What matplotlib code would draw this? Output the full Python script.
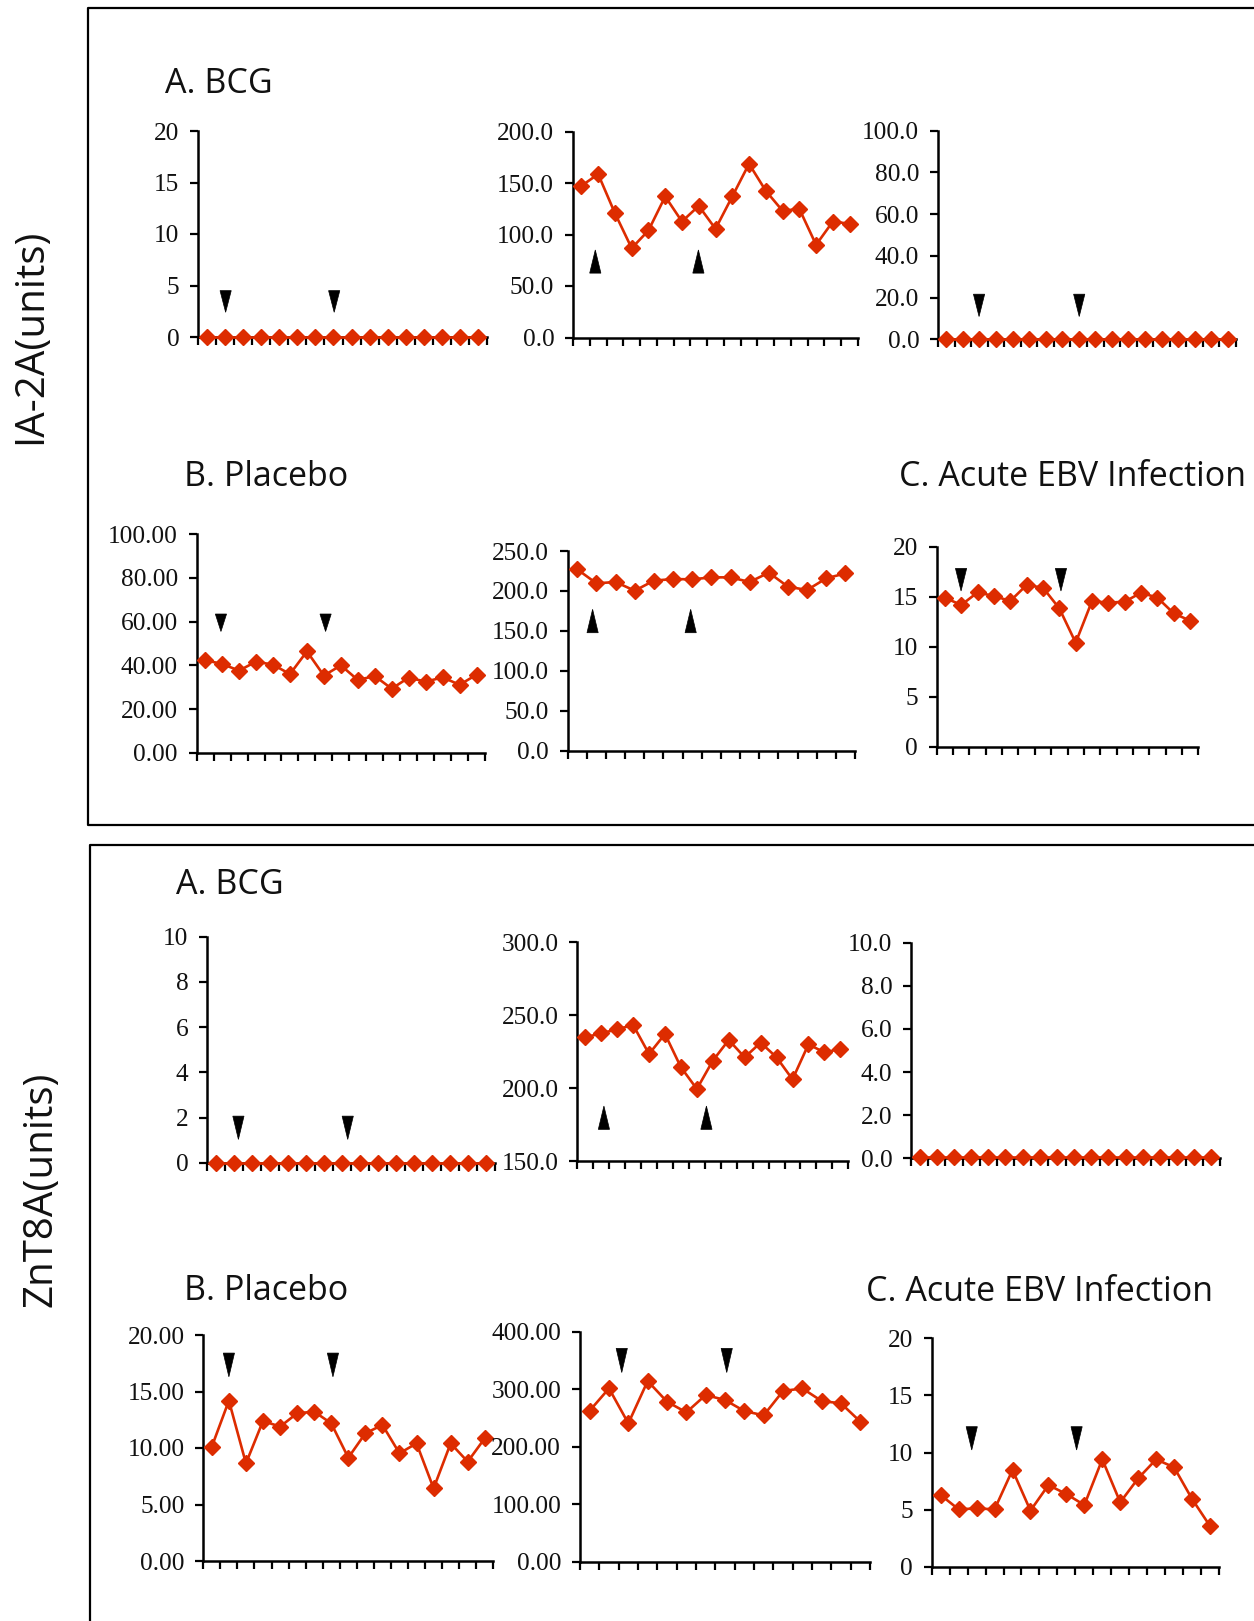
import matplotlib
matplotlib.use("Agg")
import matplotlib.pyplot as plt
from matplotlib.patches import Polygon
from matplotlib.lines import Line2D
import numpy as np

W, H, DPI = 1254, 1621, 100
RED = "#DD2C00"

# ---------------- data ----------------
# IA-2A, BCG
ia2a_bcg_a = [0, 0, 0, 0, 0, 0, 0, 0, 0, 0, 0, 0, 0, 0, 0, 0]
ia2a_bcg_b = [147.2, 158.6, 120.7, 86.7, 103.9, 136.9, 112.6, 127.8, 105.5,
              136.9, 168.6, 142.4, 123.0, 124.9, 90.0, 112.6, 110.4]
ia2a_bcg_c = [0, 0, 0, 0, 0, 0, 0, 0, 0, 0, 0, 0, 0, 0, 0, 0, 0, 0]
# IA-2A, Placebo
ia2a_pla_a = [42.4, 40.6, 37.6, 41.7, 40.3, 36.0, 46.4, 35.3, 40.0,
              33.3, 35.1, 29.3, 34.4, 32.5, 34.5, 31.1, 35.7]
ia2a_pla_b = [227.0, 209.5, 211.2, 200.3, 212.9, 214.9, 214.5, 217.0,
              217.0, 211.2, 222.9, 205.3, 201.2, 215.8, 222.0]
# IA-2A, Acute EBV infection
ia2a_ebv = [14.9, 14.17, 15.43, 15.07, 14.57, 16.17, 15.9, 13.83, 10.4,
            14.57, 14.4, 14.5, 15.4, 14.9, 13.33, 12.6]
# ZnT8A, BCG
znt8_bcg_a = [0, 0, 0, 0, 0, 0, 0, 0, 0, 0, 0, 0, 0, 0, 0, 0]
znt8_bcg_b = [234.8, 237.6, 240.3, 243.3, 223.4, 237.1, 214.3, 199.4, 218.8,
              233.0, 221.1, 231.2, 221.1, 206.0, 230.0, 224.5, 226.8]
znt8_bcg_c = [0.05, 0.05, 0.05, 0.05, 0.05, 0.05, 0.05, 0.05, 0.05, 0.05,
              0.05, 0.05, 0.05, 0.05, 0.05, 0.05, 0.05, 0.05]
# ZnT8A, Placebo
znt8_pla_a = [10.12, 14.19, 8.64, 12.39, 11.89, 13.07, 13.22, 12.18, 9.14,
              11.3, 12.04, 9.53, 10.41, 6.43, 10.41, 8.79, 10.86]
znt8_pla_b = [262.6, 301.4, 240.6, 314.2, 278.3, 259.7, 289.9, 281.2,
              262.0, 254.5, 296.8, 301.4, 279.4, 275.4, 243.5]
# ZnT8A, Acute EBV infection
znt8_ebv = [6.28, 5.02, 5.11, 5.02, 8.47, 4.91, 7.15, 6.36, 5.4, 9.4,
            5.64, 7.74, 9.4, 8.7, 5.93, 3.56]

# y tick values
yt_ia2a_bcg_a = [0, 5, 10, 15, 20]
yt_ia2a_bcg_b = [0, 50, 100, 150, 200]
yt_ia2a_bcg_c = [0, 20, 40, 60, 80, 100]
yt_ia2a_pla_a = [0, 20, 40, 60, 80, 100]
yt_ia2a_pla_b = [0, 50, 100, 150, 200, 250]
yt_ia2a_ebv = [0, 5, 10, 15, 20]
yt_znt8_bcg_a = [0, 2, 4, 6, 8, 10]
yt_znt8_bcg_b = [150, 200, 250, 300]
yt_znt8_bcg_c = [0, 2, 4, 6, 8, 10]
yt_znt8_pla_a = [0, 5, 10, 15, 20]
yt_znt8_pla_b = [0, 100, 200, 300, 400]
yt_znt8_ebv = [0, 5, 10, 15, 20]

# arrowheads: (category position, y of flat edge, y of tip)
ar_ia2a_bcg_a = [(1.53, 4.5, 2.4), (7.54, 4.5, 2.4)]
ar_ia2a_bcg_b = [(1.33, 62.5, 85.0), (7.48, 62.5, 85.0)]
ar_ia2a_bcg_c = [(2.48, 21.6, 10.9), (8.53, 21.6, 10.9)]
ar_ia2a_pla_a = [(1.43, 63.5, 55.5), (7.6, 63.5, 55.5)]
ar_ia2a_pla_b = [(1.30, 147.7, 177.0), (6.42, 147.7, 177.0)]
ar_ia2a_ebv = [(1.49, 17.83, 15.57), (7.6, 17.83, 15.57)]
ar_znt8_bcg_a = [(1.73, 2.06, 1.03), (7.81, 2.06, 1.03)]
ar_znt8_bcg_b = [(1.67, 171.7, 187.7), (8.1, 171.7, 187.7)]
ar_znt8_bcg_c = []
ar_znt8_pla_a = [(1.5, 18.4, 16.3), (7.6, 18.4, 16.3)]
ar_znt8_pla_b = [(2.16, 371.0, 329.0), (7.59, 371.0, 329.0)]
ar_znt8_ebv = [(2.23, 12.26, 10.22), (8.07, 12.26, 10.22)]

# ---------------- layout (pixel boxes: left, top, right, bottom) ----------------
panels = [
    (ia2a_bcg_a, yt_ia2a_bcg_a, "{:.0f}", ar_ia2a_bcg_a, (198, 131, 487, 337)),
    (ia2a_bcg_b, yt_ia2a_bcg_b, "{:.1f}", ar_ia2a_bcg_b, (573, 131.5, 858, 337.5)),
    (ia2a_bcg_c, yt_ia2a_bcg_c, "{:.1f}", ar_ia2a_bcg_c, (938, 130.5, 1236, 339.3)),
    (ia2a_pla_a, yt_ia2a_pla_a, "{:.2f}", ar_ia2a_pla_a, (196.7, 534.3, 485, 752.7)),
    (ia2a_pla_b, yt_ia2a_pla_b, "{:.1f}", ar_ia2a_pla_b, (567.7, 551, 855, 750.7)),
    (ia2a_ebv, yt_ia2a_ebv, "{:.0f}", ar_ia2a_ebv, (936.7, 546.7, 1198.3, 746.7)),
    (znt8_bcg_a, yt_znt8_bcg_a, "{:.0f}", ar_znt8_bcg_a, (207.3, 936.7, 495, 1162.7)),
    (znt8_bcg_b, yt_znt8_bcg_b, "{:.1f}", ar_znt8_bcg_b, (577.3, 942.3, 848.3, 1161)),
    (znt8_bcg_c, yt_znt8_bcg_c, "{:.1f}", ar_znt8_bcg_c, (911, 942.7, 1220, 1158.3)),
    (znt8_pla_a, yt_znt8_pla_a, "{:.2f}", ar_znt8_pla_a, (203.3, 1335, 493.3, 1561)),
    (znt8_pla_b, yt_znt8_pla_b, "{:.2f}", ar_znt8_pla_b, (580, 1331.7, 870, 1561.7)),
    (znt8_ebv, yt_znt8_ebv, "{:.0f}", ar_znt8_ebv, (931.7, 1338.3, 1219, 1566.7)),
]

fig = plt.figure(figsize=(W / DPI, H / DPI), dpi=DPI)
fig.patch.set_facecolor("white")

for vals, yt, fmt, arrows, (l, t, r, b) in panels:
    ax = fig.add_axes([l / W, 1 - b / H, (r - l) / W, (b - t) / H])
    n = len(vals)
    x = np.arange(n) + 0.5
    ax.plot(x, vals, color=RED, lw=1.9, marker="D", ms=7.8, mec=RED, mfc=RED,
            clip_on=False, zorder=5)
    ax.set_xlim(0, n)
    ax.set_ylim(yt[0], yt[-1])
    ax.set_xticks(np.arange(n + 1))
    ax.set_xticklabels([])
    ax.set_yticks(yt)
    ax.set_yticklabels([fmt.format(v) for v in yt], fontfamily="Liberation Serif",
                       fontsize=18.3, color="#111111")
    for s in ("top", "right"):
        ax.spines[s].set_visible(False)
    for s in ("left", "bottom"):
        ax.spines[s].set_linewidth(1.8)
    ax.tick_params(axis="both", direction="out", length=5.5, width=1.6, pad=8)
    # arrowheads (half width in pixels converted to category units)
    hw = 5.6 * n / (r - l)
    for ax_x, y_flat, y_tip in arrows:
        tri = Polygon([(ax_x - hw, y_flat), (ax_x + hw, y_flat), (ax_x, y_tip)],
                      closed=True, facecolor="black", edgecolor="black", lw=0.5,
                      zorder=6, clip_on=False)
        ax.add_patch(tri)

# frames
def fig_line(xs, ys):
    fig.add_artist(Line2D([v / W for v in xs], [1 - v / H for v in ys],
                          color="black", lw=1.6, transform=fig.transFigure))

fig_line([1260, 88, 88, 1260], [8, 8, 825, 825])
fig_line([1260, 90, 90], [845, 845, 1630])

# titles
TF = "Open Sans"
titles = [
    ("A. BCG", 165, 84),
    ("B. Placebo", 184, 477),
    ("C. Acute EBV Infection", 899, 477),
    ("A. BCG", 176, 885),
    ("B. Placebo", 184, 1291),
    ("C. Acute EBV Infection", 866, 1292),
]
for txt, tx, ty in titles:
    fig.text(tx / W, 1 - ty / H, txt, fontfamily=TF, fontsize=24.5,
             ha="left", va="center", color="#111111")

fig.text(31 / W, 1 - 336 / H, "IA-2A(units)", rotation=90, fontfamily=TF,
         fontsize=29, ha="center", va="center", color="#111111")
fig.text(41 / W, 1 - 1189 / H, "ZnT8A(units)", rotation=90, fontfamily=TF,
         fontsize=29, ha="center", va="center", color="#111111")

fig.savefig("out.png", dpi=DPI, facecolor="white")
